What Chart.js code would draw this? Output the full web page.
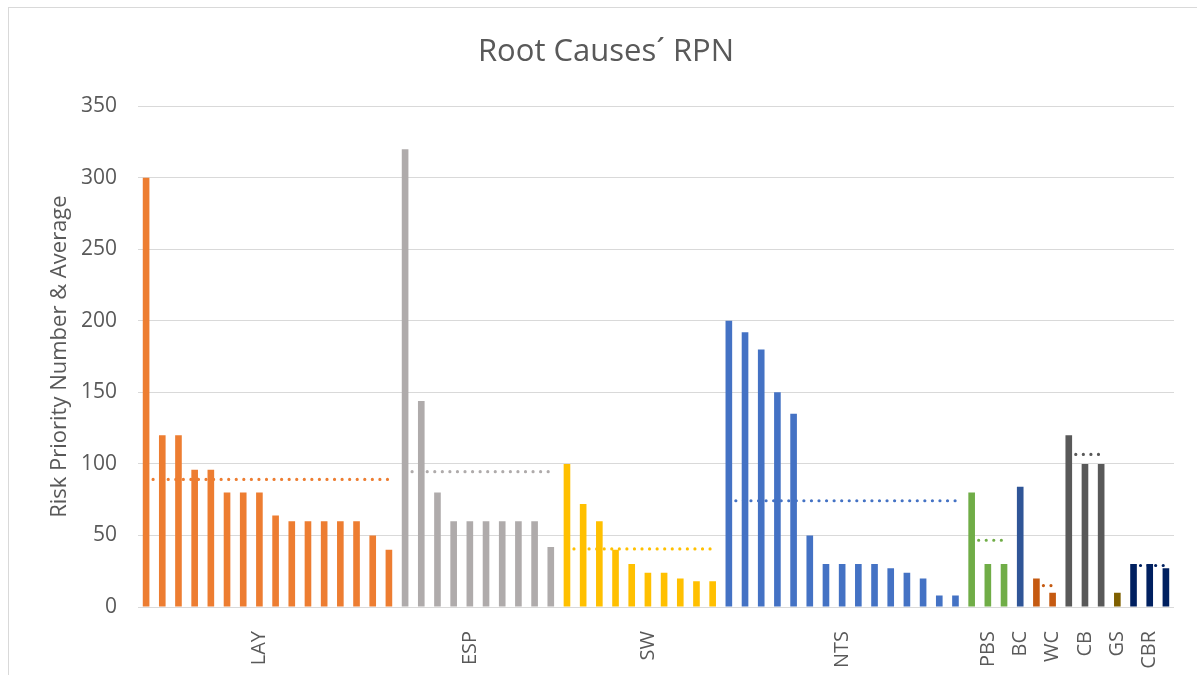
<!DOCTYPE html>
<html lang="en">
<head>
<meta charset="UTF-8">
<title>Root Causes RPN</title>
<script src="https://cdn.jsdelivr.net/npm/chart.js@4.4.0/dist/chart.umd.min.js"></script>
<style>
	html, body { margin: 0; padding: 0; background: #fff; overflow: hidden; }
	#wrap { position: absolute; left: 0; top: 0; width: 1197px; height: 675px; }
	#frame { position: absolute; left: 8px; top: 7px; width: 1200px; height: 700px;
		border: 1px solid #d9d9d9; pointer-events: none; }
</style>
</head>
<body>
<div id="wrap"><canvas id="pizarra"></canvas></div>
<div id="frame"></div>
<script>
	// Risk priority numbers per root cause group
	const grupos = ['LAY', 'ESP', 'SW', 'NTS', 'PBS', 'BC', 'WC', 'CB', 'GS', 'CBR']
	const lay = [300, 120, 120, 96, 96, 80, 80, 80, 64, 60, 60, 60, 60, 60, 50, 40]
	const esp = [320, 144, 80, 60, 60, 60, 60, 60, 60, 42]
	const sw = [100, 72, 60, 40, 30, 24, 24, 20, 18, 18]
	const nts = [200, 192, 180, 150, 135, 50, 30, 30, 30, 30, 27, 24, 20, 8, 8]
	const pbs = [80, 30, 30]
	const bc = [84]
	const wc = [20, 10]
	const cb = [120, 100, 100]
	const gs = [10]
	const cbr = [30, 30, 27]
	const yTicks = [0, 50, 100, 150, 200, 250, 300, 350]

	const valores = [lay, esp, sw, nts, pbs, bc, wc, cb, gs, cbr]
	const colores = ['#ED7D31', '#AFABAB', '#FFC000', '#4472C4', '#70AD47',
		'#2F5597', '#C55A11', '#595959', '#7F6000', '#002060']
	// which bar of each group carries the group name on the axis
	const posEtiqueta = [7, 4, 5, 7, 1, 0, 1, 1, 0, 1]

	const total = valores.reduce((s, v) => s + v.length, 0)
	const etiquetas = new Array(total).fill('')
	const datasets = []
	let inicio = 0
	valores.forEach((v, g) => {
		const barras = new Array(total).fill(null)
		const media = new Array(total).fill(null)
		const prom = v.reduce((a, b) => a + b, 0) / v.length
		v.forEach((val, i) => {
			barras[inicio + i] = val
			media[inicio + i] = prom
		})
		etiquetas[inicio + posEtiqueta[g]] = grupos[g]
		datasets.push({
			type: 'line',
			label: grupos[g] + ' average',
			data: media,
			borderColor: colores[g],
			borderWidth: 3.2,
			borderDash: [0.01, 7.55],
			borderDashOffset: -7,
			borderCapStyle: 'round',
			pointRadius: 0,
			spanGaps: false,
			order: 0
		})
		datasets.push({
			type: 'bar',
			label: grupos[g],
			data: barras,
			backgroundColor: colores[g],
			barPercentage: 0.41,
			categoryPercentage: 1,
			grouped: false,
			order: 1
		})
		inicio += v.length
	})

	const fuente = "'Open Sans', 'DejaVu Sans', sans-serif"
	const gris = '#595959'

	new Chart(document.getElementById('pizarra'), {
		type: 'bar',
		data: { labels: etiquetas, datasets: datasets },
		options: {
			responsive: true,
			maintainAspectRatio: false,
			animation: false,
			layout: { padding: { left: 38, right: 23, top: 7, bottom: 0 } },
			plugins: {
				legend: { display: false },
				tooltip: { enabled: false },
				title: {
					display: true,
					text: 'Root Causes\u00B4 RPN',
					color: gris,
					font: { family: fuente, size: 31, weight: 'normal' },
					padding: { top: 27, bottom: 35 }
				}
			},
			scales: {
				x: {
					type: 'category',
					grid: { display: false },
					border: { display: false },
					ticks: {
						autoSkip: false,
						minRotation: 90,
						maxRotation: 90,
						padding: 16,
						color: gris,
						font: { family: fuente, size: 20 }
					},
					afterFit: (s) => {
						s.height = 68
						s.paddingLeft = 0
						s.paddingRight = 0
					}
				},
				y: {
					min: 0,
					max: 350,
					afterBuildTicks: (s) => { s.ticks = yTicks.map(v => ({ value: v })) },
					grid: { color: '#d9d9d9', lineWidth: 1, drawTicks: false },
					border: { display: false },
					ticks: {
						padding: 21,
						color: gris,
						font: { family: fuente, size: 21 }
					},
					title: {
						display: true,
						text: 'Risk Priority Number & Average',
						color: gris,
						font: { family: fuente, size: 22 },
						padding: { top: 9, bottom: 0 }
					},
					afterFit: (s) => { s.width = 100 }
				}
			}
		}
	})
</script>
</body>
</html>
